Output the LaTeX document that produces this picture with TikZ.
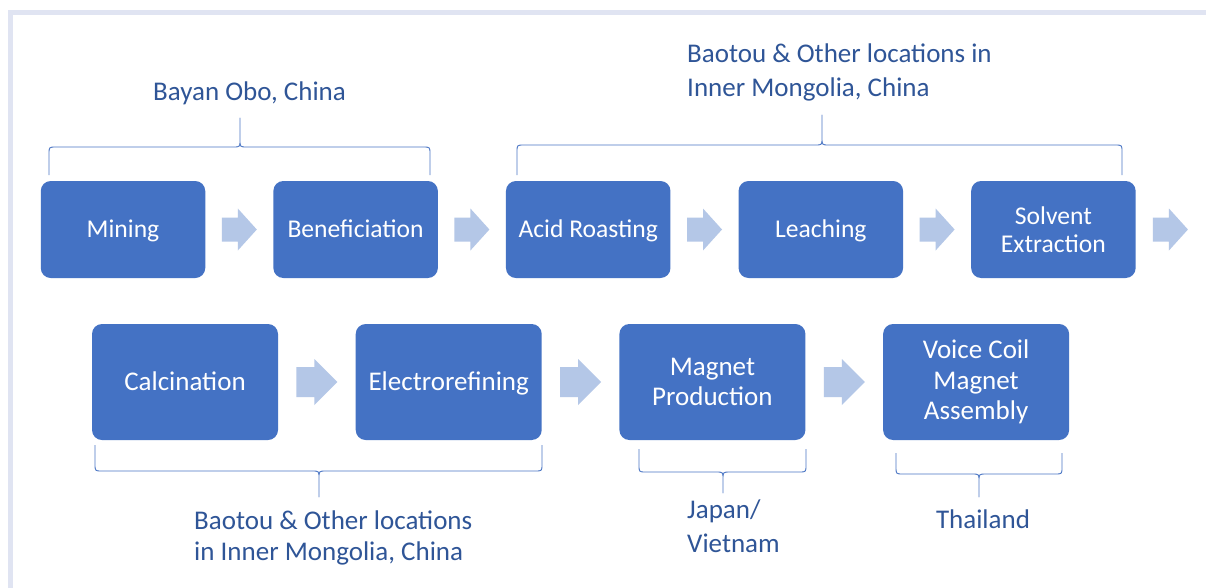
\documentclass[tikz,border=0pt]{standalone}
\usepackage{fontspec}
\setmainfont{Carlito}
\usetikzlibrary{calc}
\definecolor{boxblue}{HTML}{4472C4}
\definecolor{arrowblue}{HTML}{B4C7E7}
\definecolor{labelblue}{HTML}{2F5597}
\definecolor{bracecol}{HTML}{4A76C4}
\definecolor{framecol}{RGB}{224,228,242}
\tikzset{
  stepbox/.style={fill=boxblue, draw=none, rounded corners=10pt, text=white, align=center, inner sep=0pt},
  rowone/.style={stepbox, minimum width=164.5pt, minimum height=97pt, font=\fontsize{25.6}{28}\selectfont},
  rowtwo/.style={stepbox, minimum width=186pt, minimum height=116pt, font=\fontsize{27}{30.5}\selectfont},
  onelineA/.style={text height=21.5pt, text depth=5pt},
  onelineB/.style={text height=23.5pt, text depth=6pt},
  lbl/.style={text=labelblue, inner sep=0pt, font=\fontsize{27}{33}\selectfont},
  bracestyle/.style={draw=bracecol, line width=0.9pt, line join=round},
}
% block arrow between two nodes: #1 from, #2 to, #3 length, #4 shaft half height, #5 head half height, #6 head length
\newcommand\blockarrow[6]{%
  \path ($(#1.east)!0.5!(#2.west)$) coordinate (m);
  \fill[arrowblue] ([shift={({-#3/2},{-#4})}]m) -- ([shift={({#3/2-#6},{-#4})}]m)
    -- ([shift={({#3/2-#6},{-#5})}]m) -- ([shift={({#3/2},0)}]m)
    -- ([shift={({#3/2-#6},{#5})}]m) -- ([shift={({#3/2-#6},{#4})}]m)
    -- ([shift={({-#3/2},{#4})}]m) -- cycle;}
% brace: #1 x0, #2 x1, #3 xm, #4 end y, #5 horizontal y, #6 tip y, #7 signed radius (towards ends)
\newcommand\hbrace[7]{%
  \draw[bracestyle] (#1,#4) -- (#1,{#5+#7}) .. controls (#1,#5) .. ({#1+7},#5)
    -- ({#3-7},#5) .. controls (#3,#5) .. (#3,{#5-#7}) -- (#3,#6)
    -- (#3,{#5-#7}) .. controls (#3,#5) .. ({#3+7},#5)
    -- ({#2-7},#5) .. controls (#2,#5) .. (#2,{#5+#7}) -- (#2,#4);}
\begin{document}
\begin{tikzpicture}[x=1pt,y=-1pt]
\useasboundingbox (0,0) rectangle (1206,587);
\fill[white] (0,0) rectangle (1206,587);
\draw[framecol, line width=5pt] (10.5,600) -- (10.5,12.5) -- (1215,12.5);

% row 1
\node[rowone, onelineA] (mining) at (123,229.5) {Mining};
\node[rowone, onelineA] (benef) at (355.6,229.5) {Beneficiation};
\node[rowone, onelineA] (acid) at (588.2,229.5) {Acid Roasting};
\node[rowone, onelineA] (leach) at (820.8,229.5) {Leaching};
\node[rowone] (solvent) at (1053.4,229.5) {Solvent\\Extraction};
\coordinate (next) at (1205,229.5);

% row 2
\node[rowtwo, onelineB] (calc) at (185,382) {Calcination};
\node[rowtwo, onelineB] (electro) at (448.7,382) {Electrorefining};
\node[rowtwo] (magnet) at (712.4,382) {Magnet\\Production};
\node[rowtwo] (voice) at (976.1,382) {Voice Coil\\Magnet\\Assembly};

% arrows row 1
\blockarrow{mining}{benef}{35}{12}{21}{19}
\blockarrow{benef}{acid}{35}{12}{21}{19}
\blockarrow{acid}{leach}{35}{12}{21}{19}
\blockarrow{leach}{solvent}{35}{12}{21}{19}
\path ($(solvent.east)!0.5!(next)$) coordinate (m);
\fill[arrowblue] ([shift={(-17.5,-12)}]m) -- ([shift={(-1.5,-12)}]m) -- ([shift={(-1.5,-21)}]m)
  -- ([shift={(17.5,0)}]m) -- ([shift={(-1.5,21)}]m) -- ([shift={(-1.5,12)}]m) -- ([shift={(-17.5,12)}]m) -- cycle;

% arrows row 2
\blockarrow{calc}{electro}{41}{15}{23}{23}
\blockarrow{electro}{magnet}{41}{15}{23}{23}
\blockarrow{magnet}{voice}{41}{15}{23}{23}

% braces
\hbrace{49}{430}{240}{175}{147}{118}{7}
\hbrace{517}{1122}{822}{175}{145}{115}{7}
\hbrace{95}{542}{319}{445}{471}{497}{-7}
\hbrace{639}{806}{723}{449}{472}{493}{-7}
\hbrace{896}{1062}{979}{453}{474}{497}{-7}

% labels
\node[lbl, anchor=base] (bayan) at (249.5,100) {Bayan Obo, China};
\node[lbl, anchor=base west] (baotouA1) at (687,62) {Baotou \& Other locations in};
\node[lbl, anchor=base west] (baotouA2) at (687,96) {Inner Mongolia, China};
\node[lbl, anchor=base west] (baotouB1) at (194,529) {Baotou \& Other locations};
\node[lbl, anchor=base west] (baotouB2) at (194,560) {in Inner Mongolia, China};
\node[lbl, anchor=base west] (japan1) at (687,518) {Japan/};
\node[lbl, anchor=base west] (japan2) at (687,552) {Vietnam};
\node[lbl, anchor=base] (thai) at (983,528) {Thailand};
\end{tikzpicture}
\end{document}
